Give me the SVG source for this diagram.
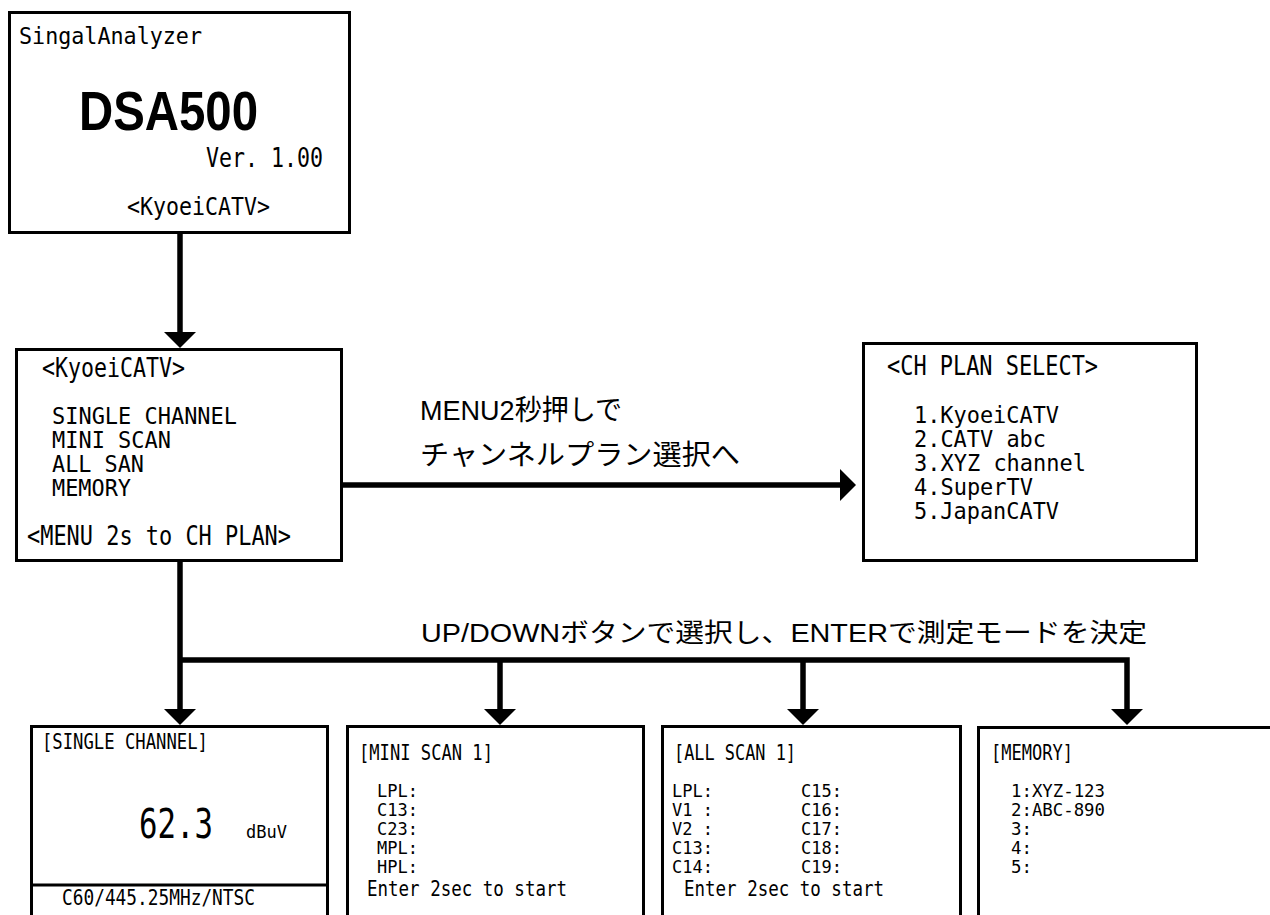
<svg xmlns="http://www.w3.org/2000/svg" width="1270" height="915" viewBox="0 0 1270 915">
<style>
.box{fill:#fff;stroke:#000;stroke-width:3}
.conn{fill:none;stroke:#000;stroke-width:5.5;stroke-linejoin:miter}
.m{font-family:"DejaVu Sans Mono","Liberation Mono",monospace;fill:#000}
.b{font-size:26px}
.l{font-size:23px}
.s{font-size:21px}
.r{font-size:18px}
.jp{font-family:"Liberation Sans","Noto Sans CJK JP",sans-serif;fill:#000}
</style>
<defs>
<marker id="ah" markerUnits="userSpaceOnUse" markerWidth="18" markerHeight="34" viewBox="0 0 18 34" refX="8" refY="16" orient="auto">
<path d="M0 0 L16 16 L0 32 Z" fill="#000"/>
</marker>
</defs>
<rect width="1270" height="915" fill="#fff"/>

<g id="connectors">
<path class="conn" d="M180 232 V340" marker-end="url(#ah)"/>
<path class="conn" d="M342 485 H848" marker-end="url(#ah)"/>
<path class="conn" d="M180 561 V717" marker-end="url(#ah)"/>
<path class="conn" d="M180 660 H1127 V717" marker-end="url(#ah)"/>
<path class="conn" d="M500 660 V717" marker-end="url(#ah)"/>
<path class="conn" d="M803 660 V717" marker-end="url(#ah)"/>
<text class="jp" x="420" y="420" font-size="28" textLength="202" lengthAdjust="spacingAndGlyphs">MENU2秒押しで</text>
<text class="jp" x="420" y="465" font-size="28" textLength="320" lengthAdjust="spacingAndGlyphs">チャンネルプラン選択へ</text>
<text class="jp" x="421" y="642" font-size="26" textLength="726" lengthAdjust="spacingAndGlyphs">UP/DOWNボタンで選択し、ENTERで測定モードを決定</text>
</g>

<g id="node-splash">
<rect class="box" x="9.5" y="12.5" width="340" height="220"/>
<text class="m" x="19" y="44" font-size="23" textLength="183" lengthAdjust="spacingAndGlyphs">SingalAnalyzer</text>
<text x="79" y="130" font-family="Liberation Sans,Arial,sans-serif" font-weight="bold" font-size="55" textLength="179" lengthAdjust="spacingAndGlyphs">DSA500</text>
<text class="m" x="206" y="167" font-size="27" textLength="117" lengthAdjust="spacingAndGlyphs">Ver. 1.00</text>
<text class="m" x="127" y="215" font-size="25" textLength="143" lengthAdjust="spacingAndGlyphs">&lt;KyoeiCATV&gt;</text>
</g>

<g id="node-menu">
<rect class="box" x="16.5" y="349.5" width="325" height="211"/>
<text class="m b" x="42" y="377" textLength="143" lengthAdjust="spacingAndGlyphs">&lt;KyoeiCATV&gt;</text>
<text class="m l" x="52" y="424" textLength="185" lengthAdjust="spacingAndGlyphs">SINGLE CHANNEL</text>
<text class="m l" x="52" y="448" textLength="119" lengthAdjust="spacingAndGlyphs">MINI SCAN</text>
<text class="m l" x="52" y="472" textLength="92" lengthAdjust="spacingAndGlyphs">ALL SAN</text>
<text class="m l" x="52" y="496" textLength="79" lengthAdjust="spacingAndGlyphs">MEMORY</text>
<text class="m b" x="27" y="545" textLength="264" lengthAdjust="spacingAndGlyphs">&lt;MENU 2s to CH PLAN&gt;</text>
</g>

<g id="node-chplan">
<rect class="box" x="863.5" y="343.5" width="333" height="217"/>
<text class="m b" x="887" y="375" textLength="211" lengthAdjust="spacingAndGlyphs">&lt;CH PLAN SELECT&gt;</text>
<text class="m l" x="914" y="423" textLength="145" lengthAdjust="spacingAndGlyphs">1.KyoeiCATV</text>
<text class="m l" x="914" y="447" textLength="132" lengthAdjust="spacingAndGlyphs">2.CATV abc</text>
<text class="m l" x="914" y="471" textLength="172" lengthAdjust="spacingAndGlyphs">3.XYZ channel</text>
<text class="m l" x="914" y="495" textLength="119" lengthAdjust="spacingAndGlyphs">4.SuperTV</text>
<text class="m l" x="914" y="519" textLength="145" lengthAdjust="spacingAndGlyphs">5.JapanCATV</text>
</g>

<g id="node-single">
<rect class="box" x="31.5" y="726.5" width="296" height="220"/>
<line x1="31.5" y1="885" x2="327.5" y2="885" stroke="#000" stroke-width="3"/>
<text class="m s" x="42" y="749" textLength="166" lengthAdjust="spacingAndGlyphs">[SINGLE CHANNEL]</text>
<text class="m" x="139" y="838" font-size="41" textLength="74" lengthAdjust="spacingAndGlyphs">62.3</text>
<text class="m" x="246" y="838" font-size="18" textLength="41" lengthAdjust="spacingAndGlyphs">dBuV</text>
<text class="m s" x="62" y="905" textLength="193" lengthAdjust="spacingAndGlyphs">C60/445.25MHz/NTSC</text>
</g>

<g id="node-miniscan">
<rect class="box" x="347.5" y="726.5" width="296" height="220"/>
<text class="m s" x="359" y="760" textLength="134" lengthAdjust="spacingAndGlyphs">[MINI SCAN 1]</text>
<text class="m r" x="377" y="797" textLength="41" lengthAdjust="spacingAndGlyphs">LPL:</text>
<text class="m r" x="377" y="816" textLength="41" lengthAdjust="spacingAndGlyphs">C13:</text>
<text class="m r" x="377" y="835" textLength="41" lengthAdjust="spacingAndGlyphs">C23:</text>
<text class="m r" x="377" y="854" textLength="41" lengthAdjust="spacingAndGlyphs">MPL:</text>
<text class="m r" x="377" y="873" textLength="41" lengthAdjust="spacingAndGlyphs">HPL:</text>
<text class="m s" x="367" y="896" textLength="200" lengthAdjust="spacingAndGlyphs">Enter 2sec to start</text>
</g>

<g id="node-allscan">
<rect class="box" x="662.5" y="726.5" width="298" height="220"/>
<text class="m s" x="674" y="760" textLength="122" lengthAdjust="spacingAndGlyphs">[ALL SCAN 1]</text>
<text class="m r" x="672" y="797" textLength="41" lengthAdjust="spacingAndGlyphs">LPL:</text>
<text class="m r" x="672" y="816" textLength="41" lengthAdjust="spacingAndGlyphs">V1 :</text>
<text class="m r" x="672" y="835" textLength="41" lengthAdjust="spacingAndGlyphs">V2 :</text>
<text class="m r" x="672" y="854" textLength="41" lengthAdjust="spacingAndGlyphs">C13:</text>
<text class="m r" x="672" y="873" textLength="41" lengthAdjust="spacingAndGlyphs">C14:</text>
<text class="m r" x="801" y="797" textLength="41" lengthAdjust="spacingAndGlyphs">C15:</text>
<text class="m r" x="801" y="816" textLength="41" lengthAdjust="spacingAndGlyphs">C16:</text>
<text class="m r" x="801" y="835" textLength="41" lengthAdjust="spacingAndGlyphs">C17:</text>
<text class="m r" x="801" y="854" textLength="41" lengthAdjust="spacingAndGlyphs">C18:</text>
<text class="m r" x="801" y="873" textLength="41" lengthAdjust="spacingAndGlyphs">C19:</text>
<text class="m s" x="684" y="896" textLength="200" lengthAdjust="spacingAndGlyphs">Enter 2sec to start</text>
</g>

<g id="node-memory">
<rect class="box" x="978.5" y="727.5" width="320" height="220"/>
<text class="m s" x="991" y="760" textLength="82" lengthAdjust="spacingAndGlyphs">[MEMORY]</text>
<text class="m r" x="1011" y="797" textLength="94" lengthAdjust="spacingAndGlyphs">1:XYZ-123</text>
<text class="m r" x="1011" y="816" textLength="94" lengthAdjust="spacingAndGlyphs">2:ABC-890</text>
<text class="m r" x="1011" y="835" textLength="21" lengthAdjust="spacingAndGlyphs">3:</text>
<text class="m r" x="1011" y="854" textLength="21" lengthAdjust="spacingAndGlyphs">4:</text>
<text class="m r" x="1011" y="873" textLength="21" lengthAdjust="spacingAndGlyphs">5:</text>
</g>
</svg>
